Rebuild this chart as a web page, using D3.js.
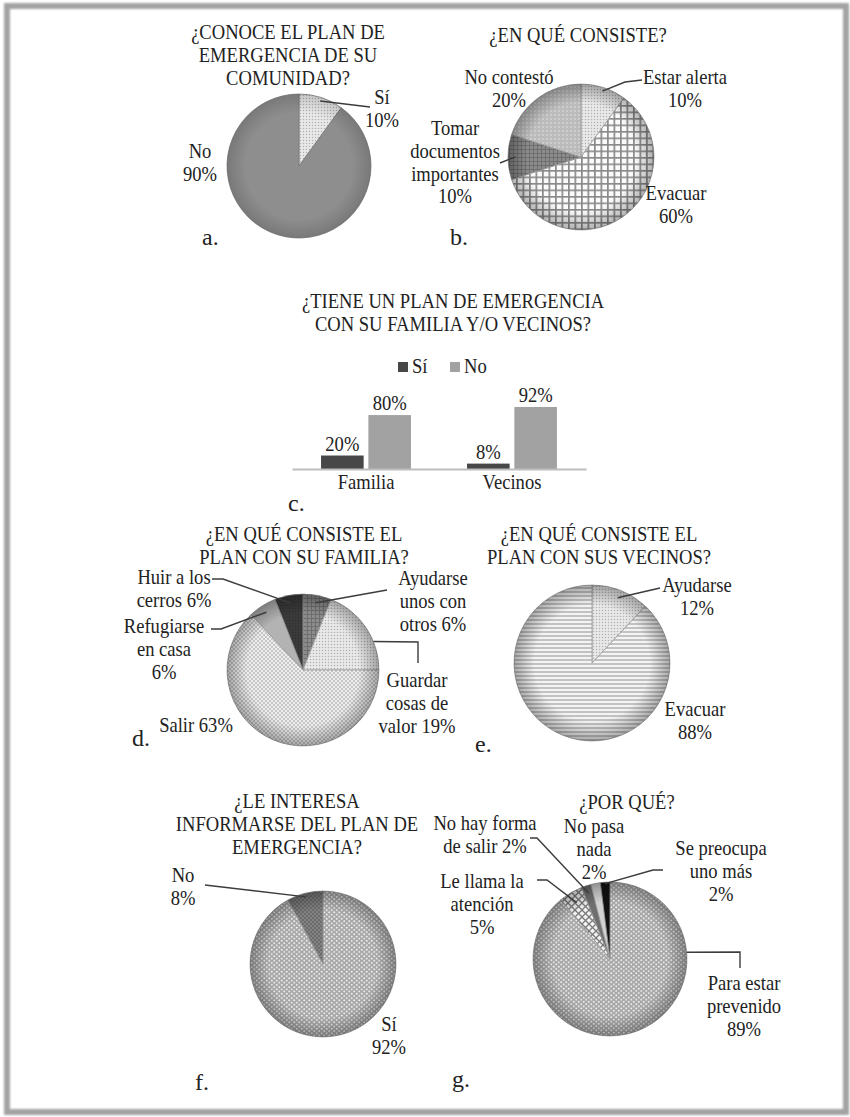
<!DOCTYPE html>
<html><head><meta charset="utf-8">
<script src="https://cdn.jsdelivr.net/npm/d3@7"></script>
<style>body{margin:0;background:#fff}</style>
</head><body>
<svg id="c" width="850" height="1117"></svg>
<script>
// ---------- DATA ----------
const titleA = ["¿CONOCE EL PLAN DE", "EMERGENCIA DE SU", "COMUNIDAD?"];
const pieALabels = ["Sí", "No"];
const pieAValues = [10, 90];

const titleB = ["¿EN QUÉ CONSISTE?"];
const pieBLabels = ["Estar alerta", "Evacuar", "Tomar documentos importantes", "No contestó"];
const pieBValues = [10, 60, 10, 20];

const titleC = ["¿TIENE UN PLAN DE EMERGENCIA", "CON SU FAMILIA Y/O VECINOS?"];
const barCategories = ["Familia", "Vecinos"];
const barSeries = ["Sí", "No"];
const barSi = [20, 8];
const barNo = [80, 92];

const titleD = ["¿EN QUÉ CONSISTE EL", "PLAN CON SU FAMILIA?"];
const pieDLabels = ["Ayudarse unos con otros", "Guardar cosas de valor", "Salir", "Refugiarse en casa", "Huir a los cerros"];
const pieDValues = [6, 19, 63, 6, 6];

const titleE = ["¿EN QUÉ CONSISTE EL", "PLAN CON SUS VECINOS?"];
const pieELabels = ["Ayudarse", "Evacuar"];
const pieEValues = [12, 88];

const titleF = ["¿LE INTERESA", "INFORMARSE DEL PLAN DE", "EMERGENCIA?"];
const pieFLabels = ["Sí", "No"];
const pieFValues = [92, 8];

const titleG = ["¿POR QUÉ?"];
const pieGLabels = ["Para estar prevenido", "Le llama la atención", "No hay forma de salir", "No pasa nada", "Se preocupa uno más"];
const pieGValues = [89, 5, 2, 2, 2];

const panelLetters = ["a.", "b.", "c.", "d.", "e.", "f.", "g."];

// ---------- SETUP ----------
const FONT = "Liberation Serif";
const svg = d3.select("#c");
const defs = svg.append("defs");
const FS = 21, SX = 0.885, LH = 22.8;

function textBlock(g, x, y, lines, o = {}) {
  const size = o.size || FS, sx = o.sx || SX, lh = o.lh || LH;
  const t = g.append("text")
    .attr("transform", `translate(${x},${y}) scale(${sx},1)`)
    .attr("text-anchor", o.anchor || "middle")
    .attr("font-family", FONT)
    .attr("font-size", size)
    .attr("fill", "#222");
  lines.forEach((l, i) => t.append("tspan").attr("x", 0).attr("y", i * lh).text(l));
  return t;
}
function splitLines(label, value, breaks) {
  const words = (label + " " + value + "%").split(" ");
  const out = []; let k = 0;
  breaks.forEach(n => { out.push(words.slice(k, k + n).join(" ")); k += n; });
  return out;
}

// ---------- PATTERNS ----------
function pat(id, w, h, build) {
  const p = defs.append("pattern").attr("id", id).attr("patternUnits", "userSpaceOnUse")
    .attr("width", w).attr("height", h);
  build(p);
}
pat("fine", 3, 3, p => { p.append("rect").attr("width", 3).attr("height", 3).attr("fill", "#e9e9e9");
  p.append("circle").attr("cx", 1.5).attr("cy", 1.5).attr("r", 0.75).attr("fill", "#b0b0b0"); });
pat("nocont", 4, 4, p => { p.append("rect").attr("width", 4).attr("height", 4).attr("fill", "#bbbbbb");
  p.append("circle").attr("cx", 2).attr("cy", 2).attr("r", 1).attr("fill", "#d4d4d4"); });
pat("grid", 6.5, 6.5, p => { p.append("rect").attr("width", 6.5).attr("height", 6.5).attr("fill", "#fbfbfb");
  p.append("path").attr("d", "M0,0.8H6.5M0.8,0V6.5").attr("stroke", "#8a8a8a").attr("stroke-width", 1.8); });
pat("darkgrid", 4, 4, p => { p.append("rect").attr("width", 4).attr("height", 4).attr("fill", "#8c8c8c");
  p.append("path").attr("d", "M0,0.5H4M0.5,0V4").attr("stroke", "#6e6e6e").attr("stroke-width", 1); });
pat("salir", 4, 4, p => { p.append("rect").attr("width", 4).attr("height", 4).attr("fill", "#efefef");
  p.append("circle").attr("cx", 1).attr("cy", 1).attr("r", 0.95).attr("fill", "#b3b3b3");
  p.append("circle").attr("cx", 3).attr("cy", 3).attr("r", 0.95).attr("fill", "#b3b3b3"); });
pat("huir", 3, 3, p => { p.append("rect").attr("width", 3).attr("height", 3).attr("fill", "#3a3a3a");
  p.append("circle").attr("cx", 1.5).attr("cy", 1.5).attr("r", 0.6).attr("fill", "#2a2a2a"); });
pat("stripes", 6, 4, p => { p.append("rect").attr("width", 6).attr("height", 4).attr("fill", "#f3f3f3");
  p.append("rect").attr("y", 0).attr("width", 6).attr("height", 2).attr("fill", "#c2c2c2"); });
pat("mesh", 5, 4.4, p => { p.append("rect").attr("width", 5).attr("height", 4.4).attr("fill", "#a6a6a6");
  p.append("ellipse").attr("cx", 1.25).attr("cy", 1.1).attr("rx", 1.05).attr("ry", 0.8).attr("fill", "#f2f2f2");
  p.append("ellipse").attr("cx", 3.75).attr("cy", 3.3).attr("rx", 1.05).attr("ry", 0.8).attr("fill", "#f2f2f2"); });
pat("noF", 4, 4, p => { p.append("rect").attr("width", 4).attr("height", 4).attr("fill", "#828282");
  p.append("path").attr("d", "M0,0L4,4M4,0L0,4").attr("stroke", "#666").attr("stroke-width", 0.8); });
pat("cross", 7, 7, p => { p.append("rect").attr("width", 7).attr("height", 7).attr("fill", "#f2f2f2");
  p.append("path").attr("d", "M0,0L7,7M7,0L0,7").attr("stroke", "#7a7a7a").attr("stroke-width", 1.3); });

const rim = defs.append("radialGradient").attr("id", "rim");
rim.append("stop").attr("offset", "74%").attr("stop-color", "#000").attr("stop-opacity", 0);
rim.append("stop").attr("offset", "100%").attr("stop-color", "#000").attr("stop-opacity", 0.3);
const blur = defs.append("filter").attr("id", "bl").attr("x", "-5%").attr("y", "-5%").attr("width", "110%").attr("height", "110%");
blur.append("feGaussianBlur").attr("stdDeviation", 0.9);

// ---------- FRAME ----------
svg.append("rect").attr("x", 7).attr("y", 6).attr("width", 839).attr("height", 1106)
  .attr("fill", "none").attr("stroke", "#a3a3a3").attr("stroke-width", 6).attr("filter", "url(#bl)");

// ---------- PIE HELPER ----------
function drawPie(cfg) {
  const g = svg.append("g");
  const pie = d3.pie().sort(null).value(d => d);
  const arcs = pie(cfg.values);
  const arc = d3.arc().innerRadius(0).outerRadius(cfg.r);
  const pg = g.append("g").attr("transform", `translate(${cfg.cx},${cfg.cy})`);
  pg.selectAll("path").data(arcs).join("path")
    .attr("d", arc).attr("fill", (d, i) => cfg.fills[i])
    .attr("stroke", cfg.stroke || "#9a9a9a").attr("stroke-width", 0.8);
  pg.append("circle").attr("r", cfg.r).attr("fill", "url(#rim)").attr("opacity", cfg.rimOp == null ? 1 : cfg.rimOp);
  (cfg.leaders || []).forEach(L => {
    const a = arcs[L.i];
    const ang = L.ang != null ? L.ang * Math.PI / 180 : (a.startAngle + a.endAngle) / 2;
    const rr = cfg.r * (L.k || 0.9);
    const p0 = [cfg.cx + rr * Math.sin(ang), cfg.cy - rr * Math.cos(ang)];
    g.append("path").attr("d", d3.line()([p0, ...L.pts]))
      .attr("fill", "none").attr("stroke", "#3c3c3c").attr("stroke-width", 1.4);
  });
  cfg.labels.forEach(Lb => {
    textBlock(g, Lb.x, Lb.y, splitLines(cfg.names[Lb.i], cfg.values[Lb.i], Lb.br));
  });
  return g;
}

// ---------- PANEL A ----------
textBlock(svg, 288, 39, titleA);
drawPie({ cx: 299, cy: 166, r: 72, values: pieAValues, names: pieALabels,
  fills: ["url(#fine)", "#8e8e8e"], stroke: "#7a7a7a", rimOp: 0.5,
  leaders: [{ i: 0, k: 0.95, pts: [[370, 107]] }],
  labels: [{ i: 0, x: 382, y: 104, br: [1, 1] }, { i: 1, x: 200, y: 158, br: [1, 1] }] });

// ---------- PANEL B ----------
textBlock(svg, 578, 42, titleB);
drawPie({ cx: 581, cy: 157, r: 73, values: pieBValues, names: pieBLabels,
  fills: ["url(#fine)", "url(#grid)", "url(#darkgrid)", "url(#nocont)"],
  leaders: [{ i: 0, k: 0.95, pts: [[625, 82], [642, 80]] }, { i: 2, k: 0.9, pts: [[500, 163]] }],
  labels: [{ i: 0, x: 685, y: 84, br: [2, 1] }, { i: 1, x: 676, y: 200, br: [1, 1] },
           { i: 2, x: 455, y: 135, br: [1, 1, 1, 1] }, { i: 3, x: 509, y: 84, br: [2, 1] }] });

// ---------- PANEL C (bars) ----------
textBlock(svg, 453, 308, titleC);
const barBase = 469;
const x0 = d3.scaleBand().domain(barCategories).range([292, 586]).paddingInner(0.384).paddingOuter(0.199);
const x1 = d3.scaleBand().domain(barSeries).range([0, x0.bandwidth()]).paddingInner(0.1);
const yB = d3.scaleLinear().domain([0, 100]).range([barBase, barBase - 67.4]);
const barColors = { "Sí": "#474747", "No": "#a2a2a2" };
const barRows = barCategories.map((c, i) => ({ cat: c, vals: [{ s: "Sí", v: barSi[i] }, { s: "No", v: barNo[i] }] }));
const cg = svg.append("g");
const grp = cg.selectAll("g.grp").data(barRows).join("g").attr("transform", d => `translate(${x0(d.cat)},0)`);
grp.selectAll("rect").data(d => d.vals).join("rect")
  .attr("x", d => x1(d.s)).attr("width", x1.bandwidth())
  .attr("y", d => yB(d.v)).attr("height", d => barBase - yB(d.v)).attr("fill", d => barColors[d.s]);
grp.selectAll("text").data(d => d.vals).join("text")
  .attr("transform", d => `translate(${x1(d.s) + x1.bandwidth() / 2},${yB(d.v) - 5}) scale(${SX},1)`)
  .attr("text-anchor", "middle").attr("font-family", FONT).attr("font-size", FS).attr("fill", "#222")
  .text(d => d.v + "%");
const ax = cg.append("g").attr("transform", `translate(0,${barBase})`)
  .call(d3.axisBottom(x0).tickSize(0).tickSizeOuter(0).tickPadding(5));
ax.attr("font-family", FONT).attr("font-size", FS);
ax.select(".domain").attr("stroke", "#bdbdbd").attr("stroke-width", 2.2);
ax.selectAll("text").attr("font-family", FONT).attr("font-size", FS)
  .attr("fill", "#222").attr("transform", `scale(${SX},1)`);
const lg = cg.append("g");
const legX = [398, 450];
barSeries.forEach((s, i) => {
  lg.append("rect").attr("x", legX[i]).attr("y", 362).attr("width", 10).attr("height", 10).attr("fill", barColors[s]);
  textBlock(lg, legX[i] + 14, 373, [s], { anchor: "start" });
});

// ---------- PANEL D ----------
textBlock(svg, 304, 541, titleD);
drawPie({ cx: 303, cy: 670, r: 76, values: pieDValues, names: pieDLabels,
  fills: ["url(#darkgrid)", "url(#fine)", "url(#salir)", "#b3b3b3", "url(#huir)"],
  leaders: [{ i: 0, k: 0.9, pts: [[387, 590]] },
            { i: 1, ang: 68, k: 1.0, pts: [[418, 642], [418, 663]] },
            { i: 3, k: 0.9, pts: [[221, 629], [211, 629]] },
            { i: 4, k: 0.9, pts: [[223, 579], [212, 579]] }],
  labels: [{ i: 0, x: 433, y: 585, br: [1, 2, 2] }, { i: 1, x: 417, y: 687, br: [1, 2, 2] },
           { i: 2, x: 196, y: 732, br: [2] }, { i: 3, x: 164, y: 633, br: [1, 2, 1] },
           { i: 4, x: 174, y: 584, br: [3, 2] }] });

// ---------- PANEL E ----------
textBlock(svg, 599, 541, titleE);
drawPie({ cx: 592, cy: 663, r: 78, values: pieEValues, names: pieELabels,
  fills: ["url(#fine)", "url(#stripes)"],
  leaders: [{ i: 0, k: 0.9, pts: [[660, 588]] }],
  labels: [{ i: 0, x: 697, y: 592, br: [1, 1] }, { i: 1, x: 695, y: 716, br: [1, 1] }] });

// ---------- PANEL F ----------
textBlock(svg, 297, 808, titleF);
drawPie({ cx: 323, cy: 964, r: 73, values: pieFValues, names: pieFLabels,
  fills: ["url(#mesh)", "url(#noF)"],
  leaders: [{ i: 1, k: 0.95, pts: [[205, 885]] }],
  labels: [{ i: 0, x: 389, y: 1031, br: [1, 1] }, { i: 1, x: 183, y: 882, br: [1, 1] }] });

// ---------- PANEL G ----------
textBlock(svg, 627, 809, titleG);
drawPie({ cx: 610, cy: 959, r: 77, values: pieGValues, names: pieGLabels,
  fills: ["url(#mesh)", "url(#cross)", "#6f6f6f", "#d2d2d2", "#111"],
  leaders: [{ i: 0, ang: 85, k: 1.0, pts: [[740, 952], [740, 968]] },
            { i: 1, k: 0.85, pts: [[547, 880], [537, 880]] },
            { i: 2, k: 0.9, pts: [[537, 838], [530, 838]] },
            { i: 4, k: 0.98, pts: [[653, 870], [663, 870]] }],
  labels: [{ i: 0, x: 744, y: 990, br: [2, 1, 1] }, { i: 1, x: 482, y: 888, br: [3, 1, 1] },
           { i: 2, x: 485, y: 830, br: [3, 3] }, { i: 3, x: 594, y: 833, br: [2, 1, 1] },
           { i: 4, x: 721, y: 855, br: [2, 2, 1] }] });

// ---------- PANEL LETTERS ----------
const letterPos = [[202, 245], [450, 245], [288, 511], [132, 746], [475, 752], [195, 1090], [452, 1087]];
panelLetters.forEach((l, i) => textBlock(svg, letterPos[i][0], letterPos[i][1], [l], { size: 24, sx: 1, anchor: "start" }));
</script>
</body></html>
